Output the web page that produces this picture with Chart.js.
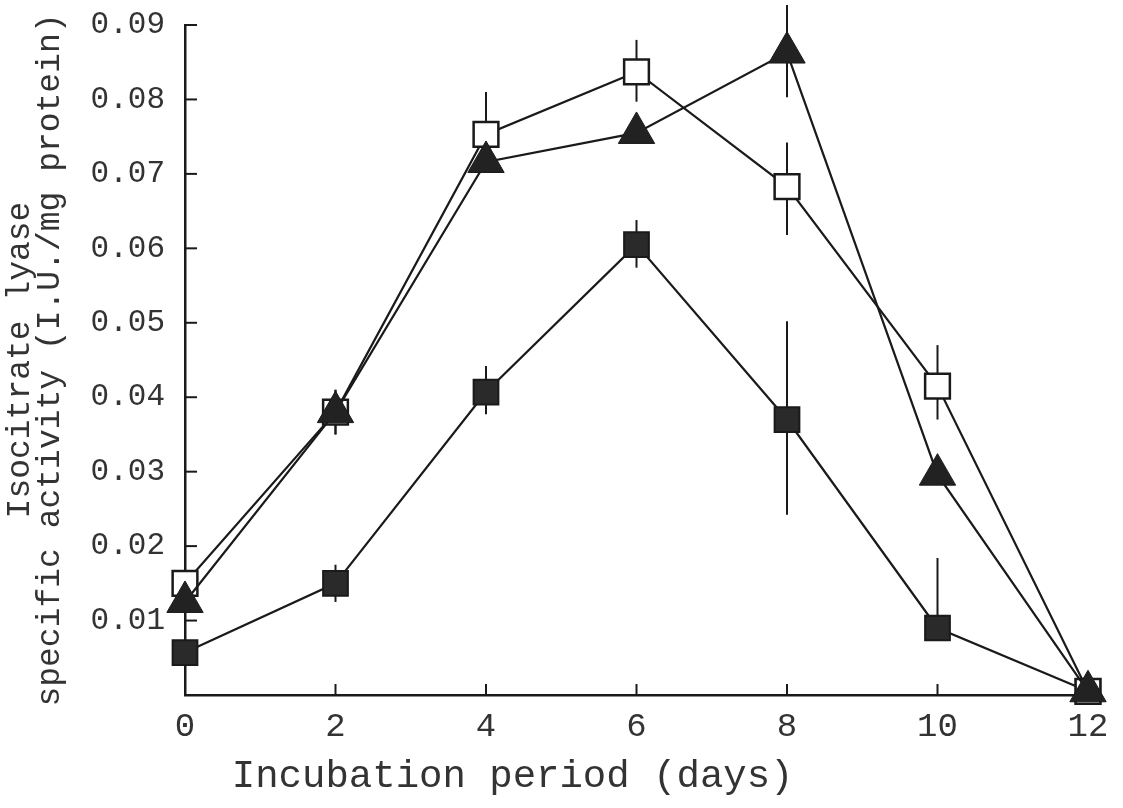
<!DOCTYPE html>
<html>
<head>
<meta charset="utf-8">
<script src="https://cdn.jsdelivr.net/npm/chart.js@4/dist/chart.umd.min.js"></script>
<style>
  html, body { margin: 0; padding: 0; background: #fff; }
  #wrap { width: 1123px; height: 808px; }
</style>
</head>
<body>
<div id="wrap"><canvas id="chart"></canvas></div>
<script>
// values
const days = [0, 2, 4, 6, 8, 10, 12];
const yTicks = [0.01, 0.02, 0.03, 0.04, 0.05, 0.06, 0.07, 0.08, 0.09];

const openSquare = [0.015, 0.038, 0.0753, 0.0837, 0.0683, 0.0415, 0.0005];
const openSquareErrUp = [0, 0.003, 0.0057, 0.0043, 0.0059, 0.0055, 0];
const openSquareErrDown = [0, 0.003, 0.0045, 0.004, 0.0065, 0.0045, 0];

const triangle = [0.0125, 0.038, 0.0716, 0.0755, 0.0863, 0.0296, 0.0005];
const triangleErrUp = [0, 0.003, 0, 0, 0.0064, 0, 0];
const triangleErrDown = [0, 0.003, 0, 0, 0.006, 0, 0];

const filledSquare = [0.0057, 0.015, 0.0407, 0.0605, 0.037, 0.009, 0.0005];
const filledSquareErrUp = [0, 0.0025, 0.0035, 0.0033, 0.0132, 0.0094, 0];
const filledSquareErrDown = [0, 0.0025, 0.003, 0.0031, 0.0128, 0, 0];

const FONT = "'Liberation Mono', 'DejaVu Sans Mono', monospace";
const INK = '#1a1a1a';

const toPoints = vals => vals.map((v, i) => ({ x: days[i], y: v }));

// error bars behind the markers, plus inward pointing axis ticks
const errorBars = {
  id: 'errorBars',
  beforeDatasetsDraw(chart) {
    const { ctx, scales: { x, y } } = chart;
    ctx.save();
    ctx.strokeStyle = INK;
    ctx.lineWidth = 2;
    chart.data.datasets.forEach(ds => {
      ds.data.forEach((p, i) => {
        const up = ds.errUp[i], down = ds.errDown[i];
        if (!up && !down) return;
        const px = x.getPixelForValue(p.x);
        ctx.beginPath();
        ctx.moveTo(px, y.getPixelForValue(p.y + up));
        ctx.lineTo(px, y.getPixelForValue(p.y - down));
        ctx.stroke();
      });
    });
    // ticks
    x.ticks.forEach(t => {
      const px = x.getPixelForValue(t.value);
      ctx.beginPath();
      ctx.moveTo(px, y.bottom);
      ctx.lineTo(px, y.bottom - 11);
      ctx.stroke();
    });
    y.ticks.forEach(t => {
      if (t.value === 0) return;
      const py = y.getPixelForValue(t.value);
      ctx.beginPath();
      ctx.moveTo(x.left, py);
      ctx.lineTo(x.left + 12, py);
      ctx.stroke();
    });
    ctx.restore();
  }
};

new Chart(document.getElementById('chart'), {
  type: 'line',
  data: {
    datasets: [
      {
        label: 'filled square',
        data: toPoints(filledSquare),
        errUp: filledSquareErrUp,
        errDown: filledSquareErrDown,
        borderColor: INK,
        borderWidth: 2.2,
        pointStyle: 'rect',
        pointRadius: 17.5,
        pointBackgroundColor: '#2a2a2a',
        pointBorderColor: INK,
        pointBorderWidth: 2,
        order: 3
      },
      {
        label: 'open square',
        data: toPoints(openSquare),
        errUp: openSquareErrUp,
        errDown: openSquareErrDown,
        borderColor: INK,
        borderWidth: 2.2,
        pointStyle: 'rect',
        pointRadius: 17.5,
        pointBackgroundColor: '#ffffff',
        pointBorderColor: INK,
        pointBorderWidth: 2.5,
        order: 2
      },
      {
        label: 'triangle',
        data: toPoints(triangle),
        errUp: triangleErrUp,
        errDown: triangleErrDown,
        borderColor: INK,
        borderWidth: 2.2,
        pointStyle: 'triangle',
        pointRadius: 21,
        pointBackgroundColor: '#222222',
        pointBorderColor: INK,
        pointBorderWidth: 1,
        order: 1
      }
    ]
  },
  options: {
    responsive: true,
    maintainAspectRatio: false,
    animation: false,
    layout: { padding: { top: 25, right: 35, bottom: 0, left: 0 } },
    plugins: {
      legend: { display: false },
      tooltip: { enabled: false }
    },
    elements: { line: { tension: 0 } },
    clip: false,
    scales: {
      x: {
        type: 'linear',
        min: 0,
        max: 12,
        afterFit: scale => {
          scale.height = 113;
          scale.paddingRight = 0;
          scale.paddingLeft = 0;
        },
        grid: { display: false },
        border: { display: true, color: INK, width: 2.5 },
        ticks: {
          stepSize: 2,
          padding: 4,
          color: '#333',
          font: { family: FONT, size: 34 }
        },
        title: {
          display: true,
          text: '  Incubation period (days)',
          align: 'start',
          color: '#333',
          padding: { top: 0, bottom: 8 },
          font: { family: FONT, size: 39, lineHeight: 1.2 }
        }
      },
      y: {
        min: 0,
        max: 0.09,
        afterFit: scale => {
          scale.width = 185;
          scale.paddingTop = 0;
          scale.paddingBottom = 0;
        },
        grid: { display: false },
        border: { display: true, color: INK, width: 2.5 },
        afterBuildTicks: scale => {
          scale.ticks = [0].concat(yTicks).map(v => ({ value: v }));
        },
        ticks: {
          padding: 12,
          color: '#333',
          font: { family: FONT, size: 31 },
          callback: v => (v === 0 ? '' : v.toFixed(2))
        },
        title: {
          display: true,
          text: ['Isocitrate lyase', 'specific activity (I.U./mg protein)'],
          color: '#333',
          padding: { top: 5, bottom: 0 },
          font: { family: FONT, size: 33, lineHeight: 0.92 }
        }
      }
    }
  },
  plugins: [errorBars]
});
</script>
</body>
</html>
